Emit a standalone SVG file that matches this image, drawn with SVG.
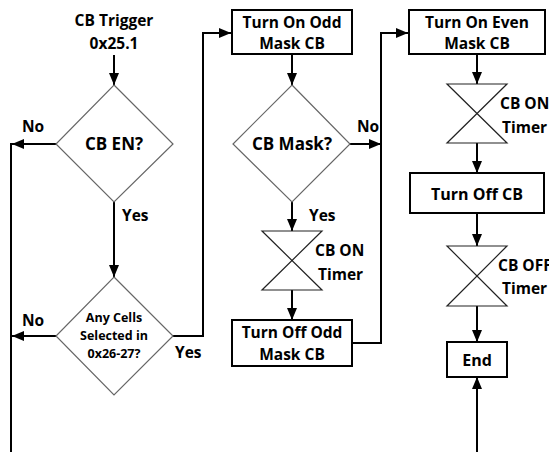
<svg xmlns="http://www.w3.org/2000/svg" width="549" height="452" viewBox="0 0 549 452">
<style>
text{font-family:"Open Sans","Noto Sans","Liberation Sans",sans-serif;font-weight:bold;font-size:15.5px;fill:#000}
.c{text-anchor:middle}
.sm{font-size:12.5px}
.lg{font-size:17px}
.box{fill:#fff;stroke:#000;stroke-width:2}
.dia{fill:#fff;stroke:#666;stroke-width:1.2}
.hg{fill:#fff;stroke:#222;stroke-width:1.2}
.ln{fill:none;stroke:#000;stroke-width:2}
</style>
<defs>
<marker id="ah" viewBox="0 0 12 10" refX="12" refY="5" markerWidth="12" markerHeight="10" markerUnits="userSpaceOnUse" orient="auto">
<path d="M0,0 L12,5 L0,10 Z" fill="#000"/>
</marker>
</defs>
<rect width="549" height="452" fill="#fff"/>
<g id="connectors">
<path class="ln" d="M114,55 V85" marker-end="url(#ah)"/>
<path class="ln" d="M56,144 H12" marker-end="url(#ah)"/>
<path class="ln" d="M11,143 V452"/>
<path class="ln" d="M114,202 V277" marker-end="url(#ah)"/>
<path class="ln" d="M56,336 H12" marker-end="url(#ah)"/>
<path class="ln" d="M173,336 H203 V33 H231" marker-end="url(#ah)"/>
<path class="ln" d="M292,54 V85" marker-end="url(#ah)"/>
<path class="ln" d="M350,144 H381" marker-end="url(#ah)"/>
<path class="ln" d="M292,202 V231" marker-end="url(#ah)"/>
<path class="ln" d="M292,290 V320" marker-end="url(#ah)"/>
<path class="ln" d="M352,343 H381 V33 H408" marker-end="url(#ah)"/>
<path class="ln" d="M477,54 V84" marker-end="url(#ah)"/>
<path class="ln" d="M477,143 V173" marker-end="url(#ah)"/>
<path class="ln" d="M477,213 V246" marker-end="url(#ah)"/>
<path class="ln" d="M477,306 V342" marker-end="url(#ah)"/>
<path class="ln" d="M477,452 V377" marker-end="url(#ah)"/>
</g>
<g id="labels">
<text x="22" y="132">No</text>
<text x="122" y="221">Yes</text>
<text x="22" y="326">No</text>
<text x="175" y="358">Yes</text>
<text x="357" y="132">No</text>
<text x="309" y="221">Yes</text>
</g>
<g id="start">
<text class="c" x="114" y="26">CB Trigger</text>
<text class="c" x="114" y="49">0x25.1</text>
</g>
<g id="cb-en">
<path class="dia" d="M114,85 L173,144 L114,202 L56,144 Z"/>
<text class="c lg" x="114" y="150">CB EN?</text>
</g>
<g id="any-cells">
<path class="dia" d="M114,277 L173,336 L114,395 L56,336 Z"/>
<text class="c sm" x="114" y="322">Any Cells</text>
<text class="c sm" x="114" y="340">Selected in</text>
<text class="c sm" x="114" y="358">0x26-27?</text>
</g>
<g id="turn-on-odd">
<rect class="box" x="232" y="10" width="120" height="44"/>
<text class="c" x="292" y="28">Turn On Odd</text>
<text class="c" x="292" y="49">Mask CB</text>
</g>
<g id="cb-mask">
<path class="dia" d="M292,85 L350,144 L292,202 L233,144 Z"/>
<text class="c lg" x="292" y="150">CB Mask?</text>
</g>
<g id="timer-on-1">
<path class="hg" d="M262,231 H322 L262,290 H322 Z"/>
<text x="315" y="256">CB ON</text>
<text x="318" y="280">Timer</text>
</g>
<g id="turn-off-odd">
<rect class="box" x="232" y="320" width="120" height="46"/>
<text class="c" x="292" y="338">Turn Off Odd</text>
<text class="c" x="292" y="360">Mask CB</text>
</g>
<g id="turn-on-even">
<rect class="box" x="409" y="10" width="136" height="44"/>
<text class="c" x="477" y="28">Turn On Even</text>
<text class="c" x="477" y="49">Mask CB</text>
</g>
<g id="timer-on-2">
<path class="hg" d="M447,84 H507 L447,143 H507 Z"/>
<text x="500" y="109">CB ON</text>
<text x="502" y="133">Timer</text>
</g>
<g id="turn-off-cb">
<rect class="box" x="410" y="173" width="134" height="40"/>
<text class="c" x="477" y="200" style="font-size:16px">Turn Off CB</text>
</g>
<g id="timer-off">
<path class="hg" d="M447,246 H507 L447,306 H507 Z"/>
<text x="498" y="271">CB OFF</text>
<text x="502" y="294">Timer</text>
</g>
<g id="end">
<rect class="box" x="447" y="342" width="60" height="35"/>
<text class="c" x="477" y="366" style="font-size:16px">End</text>
</g>
</svg>
